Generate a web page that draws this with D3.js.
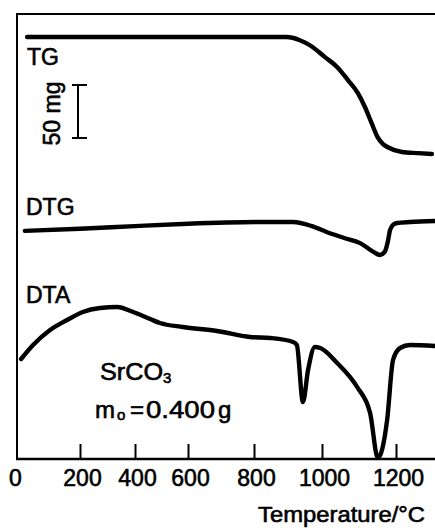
<!DOCTYPE html>
<html>
<head>
<meta charset="utf-8">
<script src="https://cdn.jsdelivr.net/npm/d3@7/dist/d3.min.js"></script>
<style>
body{margin:0;background:#fff}
svg{display:block}
text{font-family:"Liberation Sans",Arial,sans-serif;fill:#000;stroke:#000;stroke-width:0.6}
</style>
</head>
<body>
<div id="chart"></div>
<script>
// temperature axis
var tickTemps = [0, 200, 400, 600, 800, 1000, 1200];

// TG : mass loss (mg)
var tgTemp = [32, 300, 600, 895, 935, 968, 1008, 1040, 1070, 1097, 1116, 1135, 1151, 1165, 1178, 1216, 1260, 1297];
var tgLoss = [0, 0, 0, 0, 3, 8.5, 19, 28, 40.6, 53, 66, 82, 95, 101, 104, 108.5, 109.6, 110.4];

// DTG : rate (arb. units)
var dtgTemp = [25, 200, 400, 600, 818, 915, 970, 1014, 1060, 1103, 1138, 1157, 1170, 1178, 1184, 1193, 1203, 1238, 1305];
var dtgVal  = [-0.29, -0.23, -0.15, -0.08, -0.03, -0.03, -0.15, -0.33, -0.5, -0.65, -0.9, -1.0, -0.9, -0.6, -0.26, -0.1, -0.06, -0.03, 0];

// DTA : delta T (arb. units)
var dtaTemp = [13, 51, 105, 159, 210, 273, 335, 393, 457, 494, 581, 688, 788, 848, 915, 926, 944, 959, 979, 995, 1041, 1095, 1130, 1151, 1176, 1192, 1211, 1238, 1305];
var dtaVal  = [10.0, 11.4, 12.9, 13.9, 14.7, 15.1, 15.2, 14.7, 14.0, 13.6, 13.2, 12.8, 12.2, 12.1, 11.7, 11.4, 5.7, 8.9, 11.2, 11.1, 9.6, 7.2, 4.6, 0.1, 3.9, 9.9, 11.1, 11.4, 11.3];

(function(){
	var width = 435;
	var height = 530;
	var svg = d3.select("div#chart")
		.append("svg")
		.attr("width", width)
		.attr("height", height);

	var axisY = 459;
	var x = d3.scaleLinear()
		.domain([0, 200, 400, 600, 800, 1000, 1200, 1300])
		.range([17, 80, 135, 188, 254, 322, 396, 433]);

	var tgY = d3.scaleLinear().domain([0, 50]).range([37, 90]);
	var dtgY = d3.scaleLinear().domain([0, -1]).range([221, 255]);
	var dtaY = d3.scaleLinear().domain([0, 15]).range([axisY, 309]);

	// frame
	svg.append("line").attr("x1", 17).attr("x2", width).attr("y1", 14).attr("y2", 14)
		.attr("stroke", "#000").attr("stroke-width", 2);
	svg.append("line").attr("x1", 17).attr("x2", 17).attr("y1", 13).attr("y2", axisY + 1)
		.attr("stroke", "#000").attr("stroke-width", 2);
	svg.append("line").attr("x1", 16).attr("x2", width).attr("y1", axisY).attr("y2", axisY)
		.attr("stroke", "#000").attr("stroke-width", 2.5);

	var xAxis = d3.axisBottom(x)
		.tickValues(tickTemps)
		.tickSizeInner(-15)
		.tickSizeOuter(0)
		.tickPadding(11)
		.tickFormat(d3.format("d"));
	var gx = svg.append("g")
		.attr("transform", "translate(0," + axisY + ")")
		.call(xAxis);
	gx.select(".domain").remove();
	gx.selectAll(".tick line").attr("stroke", "#000").attr("stroke-width", 2)
		.attr("display", function(d){ return d === 0 ? "none" : null; });
	gx.selectAll(".tick text")
		.attr("font-size", 23)
		.attr("font-family", "Liberation Sans, Arial, sans-serif")
		.attr("fill", "#000")
		.attr("dx", function(d){ return d === 0 ? -2 : 2; });

	svg.append("text")
		.attr("x", 258).attr("y", 522)
		.attr("font-size", 22)
		.attr("textLength", 167)
		.attr("lengthAdjust", "spacingAndGlyphs")
		.text("Temperature/°C");

	function drawCurve(temps, vals, yScale){
		var pts = temps.map(function(t, i){ return [x(t), yScale(vals[i])]; });
		svg.append("path")
			.attr("d", d3.line().curve(d3.curveMonotoneX)(pts))
			.attr("fill", "none")
			.attr("stroke", "#000")
			.attr("stroke-width", 4.4)
			.attr("stroke-linecap", "round")
			.attr("stroke-linejoin", "round");
	}
	drawCurve(tgTemp, tgLoss, tgY);
	drawCurve(dtgTemp, dtgVal, dtgY);
	drawCurve(dtaTemp, dtaVal, dtaY);

	// curve labels
	svg.append("text").attr("x", 27).attr("y", 65).attr("font-size", 23).text("TG");
	svg.append("text").attr("x", 26).attr("y", 215).attr("font-size", 23).text("DTG");
	svg.append("text").attr("x", 26).attr("y", 303).attr("font-size", 23).text("DTA");

	// 50 mg scale bar
	var barTop = 85;
	var barBot = barTop + (tgY(50) - tgY(0));
	var bar = svg.append("g").attr("stroke", "#000").attr("stroke-width", 2);
	bar.append("line").attr("x1", 78).attr("x2", 78).attr("y1", barTop).attr("y2", barBot);
	bar.append("line").attr("x1", 72).attr("x2", 87).attr("y1", barTop).attr("y2", barTop);
	bar.append("line").attr("x1", 72).attr("x2", 87).attr("y1", barBot).attr("y2", barBot);
	svg.append("text")
		.attr("transform", "translate(60," + ((barTop + barBot) / 2 + 2) + ") rotate(-90)")
		.attr("text-anchor", "middle")
		.attr("font-size", 23)
		.attr("textLength", 64)
		.attr("lengthAdjust", "spacingAndGlyphs")
		.text("50 mg");

	// sample annotation
	var s = svg.append("text").attr("x", 100).attr("y", 380).attr("font-size", 23);
	s.append("tspan").attr("textLength", 63).attr("lengthAdjust", "spacingAndGlyphs").text("SrCO");
	s.append("tspan").attr("x", 163).attr("font-size", 15).attr("dy", 3).text("3");
	var m = svg.append("text").attr("y", 418).attr("font-size", 24);
	m.append("tspan").attr("x", 95).text("m");
	m.append("tspan").attr("x", 117).attr("font-size", 15).attr("dy", 2).text("o");
	m.append("tspan").attr("x", 130).attr("dy", -2).text("=");
	m.append("tspan").attr("x", 146).attr("textLength", 69).attr("lengthAdjust", "spacingAndGlyphs").text("0.400");
	m.append("tspan").attr("x", 218).text("g");
})();
</script>
</body>
</html>
